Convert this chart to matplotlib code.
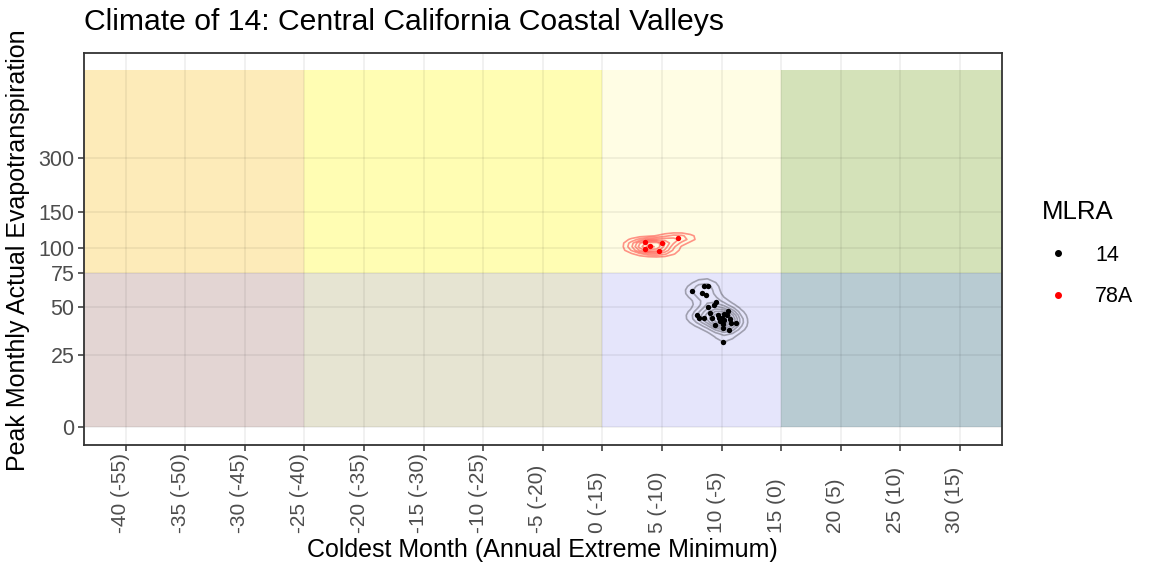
import numpy as np
import matplotlib
matplotlib.use("Agg")
import matplotlib.pyplot as plt
import matplotlib.transforms as mtrans
from matplotlib.lines import Line2D

plt.rcParams['font.family'] = ['Liberation Sans', 'DejaVu Sans']

# --- data ---
# coldest month mean temperature (C) vs peak monthly AET (mm)
mlra14_x = [7.55, 8.5, 8.89, 8.33, 8.67, 9.51, 9.34, 8.89, 9.06, 7.95,
            8.11, 8.5, 9.23, 9.67, 10.01, 10.23, 10.57, 10.46, 10.23, 9.9,
            10.13, 9.46, 10.68, 10.8, 11.24, 10.63, 10.13, 10.13, 9.79]
mlra14_y = [60.7, 65.1, 65.1, 59.7, 58.3, 53.8, 51.6, 50.3, 46.6, 45.1,
            43.5, 43.9, 43.5, 45.4, 43.9, 45.9, 47.5, 45.1, 42.4, 42.0,
            40.2, 39.8, 42.8, 40.9, 40.9, 36.9, 38.0, 30.9, 43.5]
mlra78a_x = [3.55, 4.03, 3.55, 4.98, 4.72, 6.32]
mlra78a_y = [105.9, 102.0, 98.3, 105.1, 95.8, 111.5]

x_breaks = list(range(-40, 31, 5))
x_labels = ["%d (%d)" % (b, b - 15) for b in x_breaks]
y_breaks = [0, 25, 50, 75, 100, 150, 300]

# climate zones: temperature edges, AET edges, fill colours
zone_x = [-np.inf, -25, 0, 15, np.inf]
zone_y = [0, 75, 20000]
zone_cols = [["#E3D5D3", "#E6E4D2", "#E5E5FB", "#B8CBD2"],
             ["#FDEBB9", "#FFFDB3", "#FFFDE4", "#D4E2B9"]]


def fwd(v):
    v = np.asarray(v, dtype=float)
    return v / (v + 100.0)


def bw_nrd(v):
    v = np.asarray(v)
    q1, q3 = np.percentile(v, [25, 75])
    return 4 * 1.06 * min(np.std(v, ddof=1), (q3 - q1) / 1.34) * len(v) ** (-0.2)


def kde2d(x, y, gx, gy, adjust=(1.0, 1.0)):
    hx = bw_nrd(x) / 4 * adjust[0]
    hy = bw_nrd(y) / 4 * adjust[1]
    ax_ = (gx[:, None] - np.asarray(x)[None, :]) / hx
    ay_ = (gy[:, None] - np.asarray(y)[None, :]) / hy
    dx = np.exp(-0.5 * ax_ ** 2) / np.sqrt(2 * np.pi)
    dy = np.exp(-0.5 * ay_ ** 2) / np.sqrt(2 * np.pi)
    return dx @ dy.T / (len(x) * hx * hy)


def pretty(lo, hi, n=10, h=1.5):
    # rough port of R's pretty()
    cell = (hi - lo) / n
    U = 10 ** np.floor(np.log10(cell))
    unit = U
    if 2 * U - cell < h * (cell - unit):
        unit = 2 * U
        if 5 * U - cell < (0.5 + 1.5 * h) * (cell - unit):
            unit = 5 * U
            if 10 * U - cell < h * (cell - unit):
                unit = 10 * U
    ns = np.floor(lo / unit + 1e-7)
    nu = np.ceil(hi / unit - 1e-7)
    return np.arange(ns, nu + 1) * unit


fig = plt.figure(figsize=(11.49, 5.66), dpi=100)
ax = fig.add_axes([84 / 1149, 1 - 445 / 566, (1001.7 - 84) / 1149, (445 - 52.7) / 566])

xlo, xhi = -43.5, 33.5
ylo, yhi = -0.05, 1.043
ax.set_xlim(xlo, xhi)
ax.set_ylim(ylo, yhi)

for j in range(2):
    for i in range(4):
        x0 = max(zone_x[i], xlo - 5)
        x1 = min(zone_x[i + 1], xhi + 5)
        y0, y1 = fwd(zone_y[j]), fwd(zone_y[j + 1])
        ax.add_patch(plt.Rectangle((x0, y0), x1 - x0, y1 - y0,
                                   facecolor=zone_cols[j][i], edgecolor='none', zorder=0.5))

for b in x_breaks:
    ax.axvline(b, color=(0, 0, 0, 0.065), lw=1.2, zorder=1)
for b in y_breaks:
    ax.axhline(fwd(b), color=(0, 0, 0, 0.065), lw=1.2, zorder=1)

# 2d density contours on a coarse grid, like stat_density_2d
gx = np.linspace(-40, 30, 100)
gy = np.linspace(0, fwd(20000), 100)
groups = [(mlra14_x, mlra14_y, 'black', 0.3), (mlra78a_x, mlra78a_y, 'red', 0.42)]
for xs, ys, col, a in groups:
    z = kde2d(xs, fwd(ys), gx, gy, adjust=(1.5, 1.1))
    lv = [l for l in pretty(0, z.max()) if 0 < l < z.max()]
    ax.contour(gx, gy, z.T, levels=lv, colors=col, alpha=a, linewidths=1.2, zorder=2)

ax.scatter(mlra14_x, fwd(mlra14_y), s=15, color='black', zorder=3, linewidths=0)
ax.scatter(mlra78a_x, fwd(mlra78a_y), s=15, color='red', zorder=3, linewidths=0)

ax.set_xticks(x_breaks)
ax.set_xticklabels([])
ax.set_yticks(fwd(y_breaks))
ax.set_yticklabels([str(b) for b in y_breaks])
ax.tick_params(axis='both', length=4, width=1.1, color='#333333', labelcolor='#4D4D4D',
               labelsize=15.5, pad=3)
for s in ax.spines.values():
    s.set_color('#333333')
    s.set_linewidth(1.3)

lab_tr = mtrans.blended_transform_factory(ax.transData, fig.transFigure) + \
    mtrans.ScaledTranslation(-5 / 100, 0, fig.dpi_scale_trans)
for b, lab in zip(x_breaks, x_labels):
    ax.text(b, 1 - 533 / 566, lab, rotation=90, ha='center', va='bottom',
            fontsize=15, color='#4D4D4D', transform=lab_tr)

fig.text(84 / 1149, 1 - 22 / 566, "Climate of 14: Central California Coastal Valleys",
         fontsize=21.7, ha='left', va='center')
fig.text(542 / 1149, 1 - 550 / 566, "Coldest Month (Annual Extreme Minimum)",
         fontsize=18, ha='center', va='center')
fig.text(18 / 1149, 1 - 250 / 566, "Peak Monthly Actual Evapotranspiration",
         fontsize=18, ha='center', va='center', rotation=90)

handles = [Line2D([], [], marker='o', ls='', color='black', markersize=4),
           Line2D([], [], marker='o', ls='', color='red', markersize=4)]
leg = fig.legend(handles, ['14', '78A'], title='MLRA', loc='upper left',
                 bbox_to_anchor=(1022 / 1149, 1 - 181 / 566), frameon=False,
                 fontsize=15.5, title_fontsize=18.5, labelspacing=0.95,
                 handletextpad=1.0, handlelength=1.5)
leg._legend_box.align = 'left'

fig.savefig("out.png", dpi=100)
